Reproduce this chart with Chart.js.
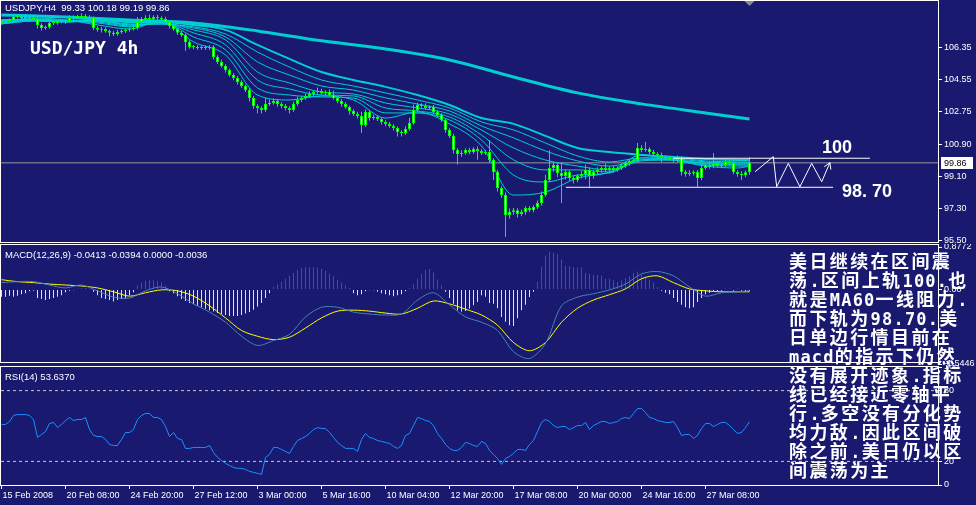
<!DOCTYPE html>
<html>
<head>
<meta charset="utf-8">
<script src="https://cdn.jsdelivr.net/npm/chart.js@4.4.1/dist/chart.umd.min.js"></script>
<style>
html, body { margin: 0; padding: 0; background: #191970; width: 976px; height: 505px; overflow: hidden; }
canvas { position: absolute; left: 0; }
.frame { position: absolute; left: 0; width: 937px; border: 1px solid #fff; pointer-events: none; }
.lbl { position: absolute; color: #fff; font-family: "Liberation Sans", Arial, sans-serif; font-size: 9.5px; line-height: 9.5px; white-space: pre; }
#big { position: absolute; left: 30px; top: 39px; color: #fff; font: bold 18px "DejaVu Sans Mono", monospace; line-height: 18px; white-space: pre; }
#note { position: absolute; left: 789px; top: 251px; color: #fff; font: bold 18px "Noto Sans CJK SC", sans-serif; letter-spacing: 2.4px; white-space: nowrap; }
#note div { height: 19px; line-height: 19px; overflow: visible; }
#note .l { font-family: "DejaVu Sans Mono", monospace; font-size: 17px; letter-spacing: 1.2px; line-height: 0; }
</style>
</head>
<body>
<canvas id="cMain" width="976" height="243" style="top:0"></canvas>
<canvas id="cMacd" width="976" height="122" style="top:244px"></canvas>
<canvas id="cRsi" width="976" height="140" style="top:365px"></canvas>
<div class="frame" style="top:0;height:241px"></div>
<div class="frame" style="top:244px;height:117px"></div>
<div class="frame" style="top:366px;height:118px"></div>
<div class="lbl" style="left:5px;top:3px">USDJPY,H4  99.33 100.18 99.19 99.86</div>
<div id="big">USD/JPY 4h</div>
<div class="lbl" style="left:5px;top:250px">MACD(12,26,9) -0.0413 -0.0394 0.0000 -0.0036</div>
<div class="lbl" style="left:5px;top:372px">RSI(14) 53.6370</div>
<div id="note">
<div>美日继续在区间震</div>
<div>荡<span class="l">.</span>区间上轨<span class="l">100.</span>也</div>
<div>就是<span class="l">MA60</span>一线阻力<span class="l">.</span></div>
<div>而下轨为<span class="l">98.70.</span>美</div>
<div>日单边行情目前在</div>
<div><span class="l">macd</span>的指示下仍然</div>
<div>没有展开迹象<span class="l">.</span>指标</div>
<div>线已经接近零轴平</div>
<div>行<span class="l">.</span>多空没有分化势</div>
<div>均力敌<span class="l">.</span>因此区间破</div>
<div>除之前<span class="l">.</span>美日仍以区</div>
<div>间震荡为主</div>
</div>
<script>
// H4 closes, one per bar
const closes = [
  107.82,107.87,107.93,108.10,108.10,108.04,108.10,108.04,107.99,107.65,
  107.48,107.53,107.76,107.76,107.82,107.82,107.87,108.04,108.10,108.10,
  108.16,108.10,108.04,107.48,107.37,107.42,107.31,107.20,107.14,107.25,
  107.31,107.37,107.42,107.48,107.82,107.99,108.04,107.99,108.10,108.04,
  107.99,107.82,107.59,107.42,107.20,107.08,106.69,106.40,106.40,106.35,
  106.40,106.35,106.40,105.84,105.56,105.33,105.11,104.82,104.65,104.43,
  104.20,103.98,103.52,103.07,102.96,102.85,103.18,103.24,103.35,103.18,
  103.07,102.96,102.85,103.18,103.41,103.52,103.64,103.75,103.86,103.92,
  103.81,103.86,103.69,103.52,103.35,103.18,103.01,102.79,102.62,102.51,
  102.00,102.73,102.39,102.45,102.34,102.17,102.05,101.94,101.83,101.60,
  101.55,101.77,102.11,102.85,103.13,103.07,102.96,103.01,102.73,102.56,
  102.28,101.71,101.38,100.59,100.36,100.42,100.59,100.47,100.64,100.53,
  100.42,100.47,100.02,99.34,98.44,98.04,96.91,97.08,97.19,96.97,
  97.08,97.31,97.19,97.36,97.59,98.04,98.89,99.57,99.74,99.29,
  99.12,99.34,99.00,98.89,99.12,99.23,99.46,99.12,99.34,99.46,
  99.57,99.46,99.57,99.46,99.57,99.68,99.85,99.96,100.02,100.70,
  100.59,100.64,100.47,100.36,100.30,100.19,100.13,100.08,100.02,100.13,
  99.34,99.23,99.29,99.34,99.00,99.57,99.74,99.68,99.79,99.68,
  99.74,99.91,99.85,99.34,99.23,99.17,99.33,99.86
];
const firstOpen = 107.76;
// wick lengths beyond the body (price units)
const wickUp = [
  .10,.08,.10,.12,.10,.08,.15,.10,.10,.12, .10,.08,.10,.10,.12,.08,.10,.15,.10,.12,
  .15,.10,.10,.08,.10,.12,.10,.08,.10,.12, .10,.08,.10,.12,.28,.10,.15,.20,.10,.12,
  .10,.12,.10,.15,.10,.10,.08,.10,.12,.10, .10,.08,.12,.10,.10,.12,.10,.08,.10,.12,
  .10,.08,.10,.12,.10,.10,.34,.20,.15,.10, .10,.12,.10,.15,.20,.10,.12,.15,.10,.20,
  .12,.10,.15,.25,.10,.12,.10,.08,.10,.12, .23,.15,.10,.12,.10,.08,.10,.12,.10,.08,
  .10,.15,.30,.30,.12,.10,.15,.10,.12,.10, .10,.08,.10,.12,.10,.15,.10,.12,.10,.15,
  .10,.12,.68,.10,.12,.10,.15,.20,.12,.10, .15,.10,.12,.10,.15,.20,.30,1.00,.20,.15,
  .62,.15,.10,.12,.10,.15,.30,.12,.10,.15, .10,.25,.10,.12,.10,.15,.10,.12,.10,.28,
  .15,.40,.10,.12,.10,.15,.10,.12,.10,.15, .10,.12,.15,.10,.12,.15,.10,.20,.63,.10,
  .12,.15,.10,.12,.10,.15,.10,.32
];
const wickDn = [
  .10,.12,.08,.10,.10,.12,.10,.08,.10,.20, .15,.10,.10,.12,.10,.08,.10,.10,.12,.10,
  .10,.08,.10,.12,.10,.15,.10,.20,.12,.10, .10,.12,.10,.08,.10,.10,.12,.10,.08,.10,
  .12,.10,.15,.10,.12,.10,.50,.10,.12,.10, .10,.12,.10,.15,.12,.10,.15,.10,.12,.15,
  .10,.12,.20,.15,.30,.20,.12,.10,.10,.15, .12,.15,.20,.10,.10,.12,.10,.10,.12,.10,
  .10,.12,.10,.10,.12,.15,.10,.20,.12,.15, .45,.12,.15,.10,.12,.15,.12,.10,.15,.25,
  .20,.12,.10,.10,.12,.10,.10,.12,.10,.12, .10,.15,.12,.20,.60,.15,.10,.12,.10,.50,
  .12,.10,.15,.45,.20,.15,1.24,.20,.15,.20, .12,.15,.10,.12,.10,.15,.10,.12,.20,.25,
  1.53,.20,.15,.20,.12,.15,.30,.68,.15,.12, .15,.10,.12,.15,.10,.12,.10,.15,.10,.12,
  .15,.10,.12,.10,.15,.30,.12,.10,.15,.12, .20,.15,.12,.15,.50,.12,.10,.15,.12,.10,
  .12,.10,.15,.12,.15,.28,.12,.14
];

// slow moving average, read every 16 bars
const slowIdx = [0,16,32,48,64,80,96,112,128,144,160,176,187];
const maSlow = [108.21,108.10,107.93,107.76,107.31,106.75,106.29,105.67,104.71,103.81,103.19,102.68,102.34];
// ribbon averages, read every 8 bars
const maIdx = [0,8,16,24,32,40,48,56,64,72,80,88,96,104,112,120,128,136,144,152,160,168,176,184,187];
const ma60 = [107.93,107.93,107.88,107.93,107.82,107.82,107.65,107.37,106.52,105.73,104.99,104.54,104.15,
  103.69,103.13,102.39,102.06,101.38,100.70,100.47,100.31,100.19,100.08,100.02,100.03];
const maT6 = [107.71,107.87,107.82,107.87,107.71,107.70,107.54,107.14,106.12,105.27,104.54,104.20,103.81,
  103.41,102.96,102.17,101.72,100.98,100.25,99.91,100.14,100.13,99.97,99.91,99.91];
const maT5 = [107.71,107.87,107.82,107.87,107.65,107.70,107.48,106.97,105.56,104.82,104.20,103.97,103.53,
  103.18,102.79,101.94,101.27,100.53,99.97,99.68,100.03,100.08,99.91,99.85,99.85];
const maT4 = [107.76,107.93,107.82,107.87,107.65,107.76,107.37,106.80,104.99,104.37,103.86,103.75,103.24,
  102.96,102.62,101.71,100.70,100.02,99.68,99.46,99.97,100.02,99.85,99.79,99.80];
const maT3 = [107.76,107.93,107.88,107.82,107.59,107.76,107.20,106.52,104.54,104.03,103.69,103.64,102.96,
  102.79,102.45,101.43,100.03,99.46,99.46,99.34,100.03,100.02,99.80,99.74,99.74];
const maT2 = [107.82,107.99,107.88,107.76,107.54,107.82,106.97,106.24,104.09,103.69,103.58,103.52,102.68,
  102.67,102.28,101.15,99.17,98.78,99.17,99.29,100.14,100.02,99.74,99.68,99.68];
const maT1 = [107.82,108.04,107.93,107.65,107.42,107.87,106.69,105.95,103.69,103.41,103.64,103.41,102.39,
  102.73,102.06,100.81,98.04,98.21,99.00,99.34,100.31,100.02,99.68,99.57,99.68];

const priceTicks = [106.35,104.55,102.75,100.90,99.10,97.30,95.50];
const priceTickLabels = ['106.35','104.55','102.75','100.90','99.10','97.30','95.50'];

// hand-drawn range annotation
const railPrice = [100.12, 98.48];
const railFrom = [167.9, 141.1];
const railTo = [217.1, 207.9];
const railText = ['100', '98. 70'];
const railTextX = [205.1, 210.1];
const railTextY = [100.42, 97.95];
const zigX = [188.4,192.95,193.8,196.7,199.6,202.55,205.05,207.1];
const zigY = [99.36,100.21,98.51,99.83,98.51,99.83,98.79,99.87];

// MACD
const macdIdx = [0,4,8,12,16,20,24,28,32,36,40,44,48,52,56,60,64,68,72,76,80,84,88,92,
  96,100,104,108,112,116,120,124,128,132,136,140,144,148,152,156,160,164,168,172,176,180,184,187];
const macdMain = [0.14,0.16,0.16,0.09,0.03,0.09,-0.03,-0.16,-0.18,-0.03,0.05,-0.09,-0.30,-0.47,-0.68,-0.97,
  -1.16,-1.06,-0.93,-0.57,-0.37,-0.37,-0.47,-0.51,-0.53,-0.51,-0.22,-0.07,-0.32,-0.57,-0.68,-0.85,
  -1.29,-1.43,-1.12,-0.34,-0.16,-0.09,-0.01,0.11,0.32,0.37,0.28,0.05,-0.14,-0.07,-0.05,-0.03];
const macdSignal = [0.20,0.16,0.14,0.11,0.09,0.07,0.03,-0.05,-0.14,-0.07,-0.01,-0.03,-0.14,-0.34,-0.59,-0.85,
  -0.97,-1.04,-0.99,-0.80,-0.59,-0.45,-0.43,-0.45,-0.49,-0.51,-0.39,-0.24,-0.30,-0.41,-0.53,-0.74,
  -1.10,-1.27,-1.10,-0.68,-0.39,-0.22,-0.11,0.01,0.22,0.28,0.14,0.01,-0.03,-0.05,-0.05,-0.05];
const macdHist = [
  -0.15,-0.15,-0.13,-0.15,-0.13,-0.10,-0.08,-0.04,-0.03,-0.18,
  -0.20,-0.22,-0.20,-0.18,-0.15,-0.12,-0.06,-0.03,-0.02,0.02,
  0.03,0.03,0.02,-0.05,-0.12,-0.18,-0.20,-0.22,-0.25,-0.22,
  -0.20,-0.18,-0.12,-0.06,0.08,0.14,0.18,0.19,0.19,0.18,
  0.14,0.08,-0.04,-0.08,-0.14,-0.20,-0.24,-0.28,-0.31,-0.34,
  -0.37,-0.40,-0.43,-0.46,-0.49,-0.51,-0.53,-0.55,-0.55,-0.55,
  -0.53,-0.50,-0.47,-0.42,-0.36,-0.28,-0.18,-0.08,0.05,0.10,
  0.16,0.22,0.28,0.34,0.40,0.44,0.46,0.46,0.46,0.45,
  0.42,0.38,0.33,0.27,0.20,0.14,0.08,0.03,-0.08,-0.12,
  -0.10,-0.04,-0.02,-0.02,-0.05,-0.08,-0.10,-0.12,-0.14,-0.12,
  -0.10,-0.04,0.03,0.10,0.22,0.32,0.40,0.42,0.35,0.20,
  0.08,-0.05,-0.18,-0.30,-0.43,-0.46,-0.45,-0.40,-0.33,-0.26,
  -0.12,-0.15,-0.28,-0.30,-0.39,-0.57,-0.67,-0.74,-0.76,-0.60,
  -0.43,-0.32,-0.16,-0.05,0.16,0.47,0.70,0.78,0.76,0.73,
  0.62,0.49,0.48,0.46,0.45,0.46,0.34,0.32,0.30,0.30,
  0.28,0.22,0.22,0.19,0.16,0.19,0.23,0.27,0.34,0.37,
  0.30,0.26,0.20,0.14,0.05,-0.03,-0.07,-0.10,-0.18,-0.26,
  -0.32,-0.37,-0.39,-0.37,-0.26,-0.18,-0.10,-0.07,-0.04,-0.04,
  -0.03,0.02,0.02,-0.03,0.02,-0.03,-0.04,-0.04
];
const macdTicks = [0.8772, 0, -1.5446];
const macdTickLabels = ['0.8772', '0.00', '-1.5446'];

// RSI(14)
const rsi = [
  51.3,51.3,53.8,58.9,59.7,59.7,59.7,58.9,55.5,40.3,
  42.8,45.4,52.1,53.0,48.7,51.3,54.6,57.2,54.6,55.5,
  55.5,57.2,47.0,42.0,41.1,41.1,38.6,34.4,33.5,33.5,
  38.6,44.5,44.5,47.0,55.5,58.9,60.6,60.6,57.2,57.2,
  55.5,49.6,41.1,44.5,39.4,38.6,31.0,31.0,31.8,31.8,
  31.8,31.8,33.5,27.6,23.4,20.8,18.3,16.6,14.9,14.1,
  14.1,13.2,11.6,10.7,9.9,9.0,23.4,25.9,31.8,31.8,
  30.1,28.5,26.8,32.7,37.7,39.4,41.1,43.7,47.0,48.7,
  47.9,47.9,44.5,40.3,36.1,33.5,31.0,31.0,31.0,28.5,
  38.6,43.7,40.3,39.4,37.7,36.9,36.1,35.2,32.7,31.0,
  33.5,42.0,43.7,50.4,57.2,56.3,54.6,53.8,50.4,43.7,
  39.4,34.4,31.0,29.3,29.3,31.8,36.1,35.2,33.5,32.7,
  36.9,35.2,29.3,25.9,22.5,17.5,22.5,24.2,26.8,30.1,
  30.1,29.3,34.4,37.7,45.4,53.0,55.5,53.8,50.4,48.7,
  49.6,49.6,47.0,48.7,50.4,50.4,53.0,47.0,50.4,52.1,
  53.8,53.8,52.1,53.0,53.8,56.3,57.2,56.3,60.6,64.8,
  64.8,61.4,57.2,56.3,54.6,53.8,53.0,53.0,53.8,48.7,
  42.0,42.8,42.8,39.4,42.0,47.9,52.1,52.1,49.6,51.3,
  53.0,53.0,50.4,47.0,43.7,44.5,48.7,53.64
];
const rsiLevels = [80, 20];
const rsiTicks = [100, 80, 20, 0];
const rsiTickLabels = ['100', '80', '20', '0'];

const timeIdx = [0,16,32,48,64,80,96,112,128,144,160,176];
const timeLabels = ['15 Feb 2008','20 Feb 08:00','24 Feb 20:00','27 Feb 12:00','3 Mar 00:00','5 Mar 16:00',
  '10 Mar 04:00','12 Mar 20:00','17 Mar 08:00','20 Mar 00:00','24 Mar 16:00','27 Mar 08:00'];

// ---- shared look ----
const X_MIN = -0.125, X_MAX = 234.125;
const axisFont = { family: '"Liberation Sans", Arial, sans-serif', size: 9 };
const WHITE = '#ffffff';
const HIST_UP = '#dc143c', HIST_DN = '#ffff00';

// keep the plot box where the panes are, not where the labels would like it
function noLabelPadding(s) {
  s.paddingTop = 0; s.paddingBottom = 0; s.paddingLeft = 0; s.paddingRight = 0;
}
function rightAxis(min, max, ticks, labels) {
  return {
    position: 'right', min, max,
    afterFit(s) { s.width = 38; noLabelPadding(s); },
    afterBuildTicks(s) { s.ticks = ticks.map(v => ({ value: v })); },
    ticks: { color: WHITE, font: axisFont, padding: 2, autoSkip: false, callback: (v, i) => labels[i] },
    grid: { drawOnChartArea: false, color: WHITE, tickLength: 4 },
    border: { color: WHITE }
  };
}
function hiddenX() {
  return { type: 'linear', min: X_MIN, max: X_MAX, offset: false, display: false };
}
const baseOpts = {
  responsive: false, animation: false, events: [],
  plugins: { legend: { display: false }, tooltip: { enabled: false } }
};

// ---- price pane ----
const opens = closes.map((c, i) => (i ? closes[i - 1] : firstOpen));
const bodies = closes.map((c, i) => ({ x: i, y: [opens[i], c] }));
const wicks = closes.map((c, i) => ({ x: i, y: [Math.min(opens[i], c) - wickDn[i], Math.max(opens[i], c) + wickUp[i]] }));
const maLine = (idx, vals, width, order) => ({
  type: 'line', data: idx.map((x, k) => ({ x, y: vals[k] })), borderColor: '#00ced1',
  borderWidth: width, pointRadius: 0, cubicInterpolationMode: 'monotone', order
});
const lastClose = closes[closes.length - 1];

const mainOverlay = {
  id: 'mainOverlay',
  afterDraw(chart) {
    const { ctx, chartArea } = chart;
    const x = chart.scales.x, y = chart.scales.y;
    ctx.save();
    ctx.fillStyle = WHITE;
    ctx.font = 'bold 18px "Liberation Sans", Arial, sans-serif';
    ctx.textBaseline = 'alphabetic';
    railText.forEach((t, k) => ctx.fillText(t, x.getPixelForValue(railTextX[k]), y.getPixelForValue(railTextY[k])));
    // arrow head on the zigzag
    const n = zigX.length;
    const ex = x.getPixelForValue(zigX[n - 1]), ey = y.getPixelForValue(zigY[n - 1]);
    const sx = x.getPixelForValue(zigX[n - 2]), sy = y.getPixelForValue(zigY[n - 2]);
    const a = Math.atan2(ey - sy, ex - sx);
    ctx.strokeStyle = WHITE; ctx.lineWidth = 1;
    ctx.beginPath();
    [a + 2.6, a - 2.6].forEach(b => { ctx.moveTo(ex, ey); ctx.lineTo(ex + 7 * Math.cos(b), ey + 7 * Math.sin(b)); });
    ctx.stroke();
    // last price tag
    const py = Math.round(y.getPixelForValue(lastClose));
    ctx.fillStyle = WHITE;
    ctx.fillRect(chartArea.right + 3, py - 6, 32, 12);
    ctx.fillStyle = '#000';
    ctx.font = '9px "Liberation Sans", Arial, sans-serif';
    ctx.textBaseline = 'middle';
    ctx.fillText(lastClose.toFixed(2), chartArea.right + 6, py + 0.5);
    // chart shift marker
    const mx = x.getPixelForValue(closes.length - 1);
    ctx.fillStyle = '#8c8c8c';
    ctx.beginPath();
    ctx.moveTo(mx - 5, chartArea.top); ctx.lineTo(mx + 5, chartArea.top); ctx.lineTo(mx, chartArea.top + 5);
    ctx.fill();
    ctx.restore();
  }
};

new Chart(document.getElementById('cMain'), {
  type: 'bar',
  data: {
    datasets: [
      { type: 'line', data: zigX.map((x, k) => ({ x, y: zigY[k] })), borderColor: WHITE, borderWidth: 1, pointRadius: 0, tension: 0, order: 0 },
      ...railPrice.map((p, k) => ({ type: 'line', data: [{ x: railFrom[k], y: p }, { x: railTo[k], y: p }],
        borderColor: WHITE, borderWidth: 1, pointRadius: 0, order: 0 })),
      { data: bodies, backgroundColor: WHITE, borderColor: '#00ff00', borderWidth: 1, borderSkipped: false,
        barThickness: 3, grouped: false, minBarLength: 1, inflateAmount: 0, order: 1 },
      { data: wicks, backgroundColor: '#00ff00', borderWidth: 0, barThickness: 1, grouped: false, inflateAmount: 0, order: 2 },
      maLine(maIdx, maT1, 1, 3), maLine(maIdx, maT2, 1, 4), maLine(maIdx, maT3, 1, 5), maLine(maIdx, maT4, 1, 6),
      maLine(maIdx, maT5, 1, 7), maLine(maIdx, maT6, 1, 8), maLine(maIdx, ma60, 2, 9), maLine(slowIdx, maSlow, 3, 10),
      { type: 'line', data: [{ x: X_MIN, y: lastClose }, { x: X_MAX, y: lastClose }], borderColor: '#9a9a9a',
        borderWidth: 1, pointRadius: 0, order: 20 }
    ]
  },
  options: {
    ...baseOpts,
    layout: { padding: { left: 1, top: 1, bottom: 1, right: 0 } },
    scales: { x: hiddenX(), y: rightAxis(95.39, 109.0, priceTicks, priceTickLabels) }
  },
  plugins: [mainOverlay]
});

// ---- MACD pane ----
new Chart(document.getElementById('cMacd'), {
  type: 'bar',
  data: {
    datasets: [
      { type: 'line', data: macdIdx.map((x, k) => ({ x, y: macdMain[k] })), borderColor: '#4682b4', borderWidth: 1, pointRadius: 0, tension: 0.3, order: 0 },
      { type: 'line', data: macdIdx.map((x, k) => ({ x, y: macdSignal[k] })), borderColor: '#ffff00', borderWidth: 1, pointRadius: 0, tension: 0.3, order: 1 },
      { data: macdHist.map((v, i) => ({ x: i, y: v })), barThickness: 1, grouped: false, borderWidth: 0, inflateAmount: 0,
        backgroundColor: macdHist.map(v => (v >= 0 ? HIST_UP : HIST_DN)), order: 2 }
    ]
  },
  options: {
    ...baseOpts,
    layout: { padding: { left: 1, top: 3, bottom: 2, right: 0 } },
    scales: { x: hiddenX(), y: rightAxis(-1.5446, 0.8772, macdTicks, macdTickLabels) }
  }
});

// ---- RSI pane ----
new Chart(document.getElementById('cRsi'), {
  type: 'line',
  data: {
    datasets: [
      { data: rsi.map((v, i) => ({ x: i, y: v })), borderColor: '#1e90ff', borderWidth: 1, pointRadius: 0, tension: 0, order: 0 },
      ...rsiLevels.map(l => ({ data: [{ x: X_MIN, y: l }, { x: X_MAX, y: l }], borderColor: '#c8c8c8',
        borderWidth: 1, borderDash: [3, 3], pointRadius: 0, order: 1 }))
    ]
  },
  options: {
    ...baseOpts,
    layout: { padding: { left: 1, top: 2, bottom: 0, right: 0 } },
    scales: {
      x: {
        type: 'linear', min: X_MIN, max: X_MAX, offset: false,
        afterFit(s) { s.height = 20; noLabelPadding(s); },
        afterBuildTicks(s) { s.ticks = timeIdx.map(v => ({ value: v })); },
        ticks: { color: WHITE, font: axisFont, align: 'start', labelOffset: 1, padding: 1, maxRotation: 0,
          autoSkip: false, callback: (v, i) => timeLabels[i] },
        grid: { drawOnChartArea: false, color: WHITE, tickLength: 4 },
        border: { color: WHITE }
      },
      y: rightAxis(0, 100, rsiTicks, rsiTickLabels)
    }
  }
});
</script>
</body>
</html>
